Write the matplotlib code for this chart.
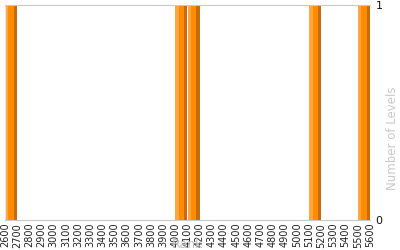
import matplotlib
matplotlib.use("Agg")
import matplotlib.pyplot as plt

# rank bins (start of each 100-wide bin) and number of levels
bin_starts = [2600, 4000, 4100, 5100, 5500]
levels = [1, 1, 1, 1, 1]
bin_width = 100
x_ticks = list(range(2600, 5700, 100))

fig = plt.figure(figsize=(4, 2.5), dpi=100)
ax = fig.add_axes([0.0125, 0.12, 0.9125, 0.86])

# each bar drawn as three strips: light, mid, dark orange
strips = [(0.0, 0.28, "#ffa640"), (0.28, 0.44, "#ff8c00"), (0.72, 0.28, "#c96a0c")]
for off, w, col in strips:
    ax.bar([b + off * bin_width for b in bin_starts], levels, width=w * bin_width,
           align="edge", color=col, linewidth=0)

ax.set_xlim(2600, 5600)
ax.set_ylim(0, 1)
ax.set_xticks(x_ticks)
ax.set_xticklabels([str(t) for t in x_ticks], rotation=90, fontsize=7, color="#222222")
ax.set_yticks([0, 1])
ax.set_yticklabels(["0", "1"], fontsize=8, color="#111111")
ax.yaxis.tick_right()
ax.yaxis.set_label_position("right")
ax.tick_params(axis="x", length=0, pad=2)
ax.tick_params(axis="y", length=0, pad=4)

for s in ["top", "bottom"]:
    ax.spines[s].set_color("#c8c8c8")
ax.spines["left"].set_color("#e6e6e6")
ax.spines["right"].set_visible(False)

ax.set_ylabel("Number of Levels", fontsize=8.5, color="#c8c8c8")
ax.yaxis.set_label_coords(1.045, 0.38)
ax.set_xlabel("Rank", fontsize=9, color="#c0c0c0", zorder=0)
ax.xaxis.set_label_coords(0.499, -0.116)
ax.xaxis.label.set_verticalalignment("center")

fig.savefig("out.png", dpi=100)
